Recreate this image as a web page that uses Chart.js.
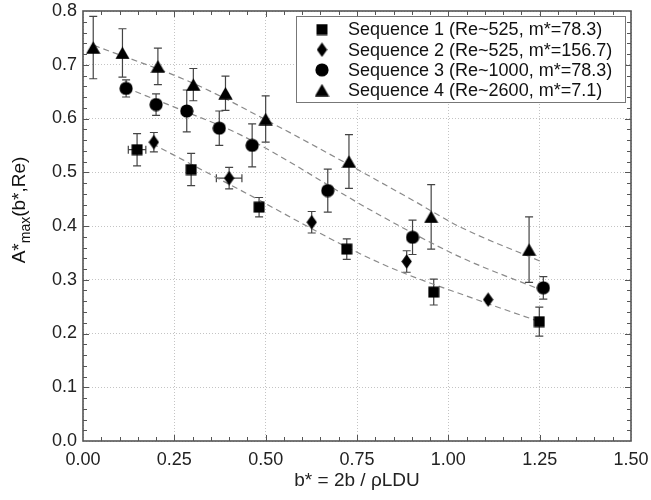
<!DOCTYPE html>
<html>
<head>
<meta charset="utf-8">
<script src="https://cdn.jsdelivr.net/npm/chart.js@4.4.0/dist/chart.umd.min.js"></script>
<style>
  html, body { margin: 0; padding: 0; background: #fff; }
</style>
</head>
<body>
<canvas id="myChart" width="651" height="500"></canvas>
<script>
// Sequence 1 (squares)
var seq1X = [0.148, 0.296, 0.482, 0.722, 0.960, 1.249];
var seq1Y = [0.542, 0.505, 0.435, 0.357, 0.277, 0.222];
var seq1YErr = [0.030, 0.030, 0.018, 0.019, 0.024, 0.027];
var seq1XErr = [0.024, 0, 0, 0, 0, 0];

// Sequence 2 (diamonds)
var seq2X = [0.194, 0.400, 0.626, 0.886, 1.109];
var seq2Y = [0.556, 0.489, 0.407, 0.334, 0.263];
var seq2YErr = [0.018, 0.020, 0.020, 0.020, 0];
var seq2XErr = [0, 0.035, 0, 0, 0];

// Sequence 3 (circles)
var seq3X = [0.118, 0.200, 0.284, 0.373, 0.463, 0.670, 0.902, 1.260];
var seq3Y = [0.656, 0.626, 0.614, 0.582, 0.550, 0.466, 0.379, 0.285];
var seq3YErr = [0.016, 0.020, 0.039, 0.032, 0.040, 0.040, 0.032, 0.021];

// Sequence 4 (triangles)
var seq4X = [0.028, 0.108, 0.205, 0.302, 0.390, 0.500, 0.728, 0.953, 1.221];
var seq4Y = [0.732, 0.722, 0.697, 0.663, 0.647, 0.599, 0.520, 0.417, 0.356];
var seq4YErr = [0.058, 0.045, 0.034, 0.030, 0.032, 0.043, 0.050, 0.060, 0.061];

// dashed fit curves
var fit1X = [0.19, 0.43, 0.81, 1.09, 1.25];
var fit1Y = [0.553, 0.467, 0.332, 0.260, 0.222];
var fit2X = [0.118, 0.28, 0.43, 0.81, 1.03, 1.25];
var fit2Y = [0.657, 0.613, 0.570, 0.421, 0.343, 0.282];
var fit3X = [0.03, 0.30, 0.51, 0.90, 1.03, 1.25];
var fit3Y = [0.736, 0.666, 0.594, 0.449, 0.399, 0.335];

var legendLabels = [
  'Sequence 1 (Re~525, m*=78.3)',
  'Sequence 2 (Re~525, m*=156.7)',
  'Sequence 3 (Re~1000, m*=78.3)',
  'Sequence 4 (Re~2600, m*=7.1)'
];

function toPoints(xs, ys) {
  return xs.map(function (x, i) { return {x: x, y: ys[i]}; });
}

// marker images
function makeMarker(w, h, draw) {
  var c = document.createElement('canvas');
  c.width = w; c.height = h;
  var g = c.getContext('2d');
  g.fillStyle = '#000';
  g.beginPath();
  draw(g);
  g.fill();
  return c;
}
var squareImg = makeMarker(12, 12, function (g) { g.rect(0.5, 0.5, 11, 11); });
var diamondImg = makeMarker(11, 15, function (g) {
  g.moveTo(5.5, 0.3); g.lineTo(10.7, 7.5); g.lineTo(5.5, 14.7); g.lineTo(0.3, 7.5); g.closePath();
});
var circleImg = makeMarker(14, 14, function (g) { g.arc(7, 7, 6.6, 0, Math.PI * 2); });
var triangleImg = makeMarker(15, 13, function (g) {
  g.moveTo(7.5, 0.3); g.lineTo(14.7, 12.7); g.lineTo(0.3, 12.7); g.closePath();
});
var markerImgs = [squareImg, diamondImg, circleImg, triangleImg];

var errSets = [
  {x: seq1X, y: seq1Y, ye: seq1YErr, xe: seq1XErr},
  {x: seq2X, y: seq2Y, ye: seq2YErr, xe: seq2XErr},
  {x: seq3X, y: seq3Y, ye: seq3YErr, xe: null},
  {x: seq4X, y: seq4Y, ye: seq4YErr, xe: null}
];

var frameTicks = {
  id: 'frameTicks',
  beforeDatasetsDraw: function (chart) {
    var ctx = chart.ctx, a = chart.chartArea;
    var xs = chart.scales.x, ys = chart.scales.y;
    ctx.save();
    ctx.strokeStyle = '#555';
    ctx.lineWidth = 1;
    ctx.beginPath();
    var i, p, len;
    for (i = 1; i < 30; i++) {
      p = Math.round(xs.getPixelForValue(i * 0.05)) + 0.5;
      len = (i % 5 === 0) ? 6 : 4;
      ctx.moveTo(p, a.bottom); ctx.lineTo(p, a.bottom - len);
      ctx.moveTo(p, a.top); ctx.lineTo(p, a.top + len);
    }
    for (i = 1; i < 40; i++) {
      p = Math.round(ys.getPixelForValue(i * 0.02)) + 0.5;
      len = (i % 5 === 0) ? 6 : 4;
      ctx.moveTo(a.left, p); ctx.lineTo(a.left + len, p);
      ctx.moveTo(a.right, p); ctx.lineTo(a.right - len, p);
    }
    ctx.stroke();
    ctx.lineWidth = 1.6;
    ctx.strokeRect(a.left, a.top, a.right - a.left, a.bottom - a.top);

    // error bars
    ctx.strokeStyle = '#444';
    ctx.lineWidth = 1.2;
    var cap = 4;
    errSets.forEach(function (s) {
      s.x.forEach(function (xv, k) {
        var px = xs.getPixelForValue(xv), py = ys.getPixelForValue(s.y[k]);
        ctx.beginPath();
        if (s.ye[k] > 0) {
          var t = ys.getPixelForValue(s.y[k] + s.ye[k]);
          var b = ys.getPixelForValue(s.y[k] - s.ye[k]);
          ctx.moveTo(px, t); ctx.lineTo(px, b);
          ctx.moveTo(px - cap, t); ctx.lineTo(px + cap, t);
          ctx.moveTo(px - cap, b); ctx.lineTo(px + cap, b);
        }
        if (s.xe && s.xe[k] > 0) {
          var l = xs.getPixelForValue(xv - s.xe[k]);
          var r = xs.getPixelForValue(xv + s.xe[k]);
          ctx.moveTo(l, py); ctx.lineTo(r, py);
          ctx.moveTo(l, py - cap); ctx.lineTo(l, py + cap);
          ctx.moveTo(r, py - cap); ctx.lineTo(r, py + cap);
        }
        ctx.stroke();
      });
    });
    ctx.restore();
  },
  afterDraw: function (chart) {
    var ctx = chart.ctx, a = chart.chartArea;
    ctx.save();
    // legend box
    var bx = a.right - 335, by = a.top + 5, bw = 329, bh = 86;
    ctx.fillStyle = '#fff';
    ctx.fillRect(bx, by, bw, bh);
    ctx.strokeStyle = '#777';
    ctx.lineWidth = 1;
    ctx.strokeRect(bx + 0.5, by + 0.5, bw, bh);
    ctx.font = '18px "Liberation Sans", Arial, sans-serif';
    ctx.fillStyle = '#111';
    ctx.textBaseline = 'middle';
    legendLabels.forEach(function (lab, i) {
      var ry = by + 13.5 + i * 20.2;
      var img = markerImgs[i];
      ctx.drawImage(img, bx + 26 - img.width / 2, ry - img.height / 2);
      ctx.fillText(lab, bx + 52, ry + 1);
    });
    // y axis title with subscript
    ctx.translate(20, 210);
    ctx.rotate(-Math.PI / 2);
    ctx.textBaseline = 'middle';
    var f1 = '19px "Liberation Sans", Arial, sans-serif';
    var f2 = '14px "Liberation Sans", Arial, sans-serif';
    ctx.font = f1; var w1 = ctx.measureText('A*').width;
    var w3 = ctx.measureText('(b*,Re)').width;
    ctx.font = f2; var w2 = ctx.measureText('max').width;
    var x0 = -(w1 + w2 + w3) / 2;
    ctx.font = f1; ctx.fillText('A*', x0, 0);
    ctx.font = f2; ctx.fillText('max', x0 + w1, 6);
    ctx.font = f1; ctx.fillText('(b*,Re)', x0 + w1 + w2, 0);
    ctx.restore();
  }
};

var fitStyle = {
  showLine: true, pointRadius: 0, borderColor: '#8a8a8a', borderWidth: 1.2,
  borderDash: [6, 4], cubicInterpolationMode: 'monotone', fill: false
};

var chart = new Chart(document.getElementById('myChart').getContext('2d'), {
  type: 'scatter',
  data: {
    datasets: [
      {label: legendLabels[0], data: toPoints(seq1X, seq1Y), pointStyle: squareImg},
      {label: legendLabels[1], data: toPoints(seq2X, seq2Y), pointStyle: diamondImg},
      {label: legendLabels[2], data: toPoints(seq3X, seq3Y), pointStyle: circleImg},
      {label: legendLabels[3], data: toPoints(seq4X, seq4Y), pointStyle: triangleImg},
      Object.assign({label: 'fit1', data: toPoints(fit1X, fit1Y)}, fitStyle),
      Object.assign({label: 'fit2', data: toPoints(fit2X, fit2Y)}, fitStyle),
      Object.assign({label: 'fit3', data: toPoints(fit3X, fit3Y)}, fitStyle)
    ]
  },
  options: {
    responsive: false,
    animation: false,
    layout: {padding: {top: 11, right: 20, left: 0, bottom: 0}},
    plugins: {legend: {display: false}, tooltip: {enabled: false}},
    scales: {
      x: {
        type: 'linear', min: 0, max: 1.5,
        afterFit: function (s) { s.height = 59; s.paddingLeft = 0; s.paddingRight = 0; },
        grid: {color: '#c4c4c4', drawTicks: false},
        border: {display: false, dash: [1, 2]},
        ticks: {
          stepSize: 0.25, padding: 8, color: '#222', maxRotation: 0,
          font: {family: '"Liberation Sans", Arial, sans-serif', size: 18},
          callback: function (v) { return v.toFixed(2); }
        },
        title: {
          display: true, text: 'b* = 2b / \u03c1LDU', color: '#222',
          font: {family: '"Liberation Sans", Arial, sans-serif', size: 19},
          padding: {top: 2, bottom: 8}
        }
      },
      y: {
        type: 'linear', min: 0, max: 0.8,
        afterFit: function (s) { s.width = 83; s.paddingTop = 0; s.paddingBottom = 0; },
        grid: {color: '#c4c4c4', drawTicks: false},
        border: {display: false, dash: [1, 2]},
        ticks: {
          stepSize: 0.1, padding: 6, color: '#222',
          font: {family: '"Liberation Sans", Arial, sans-serif', size: 18},
          callback: function (v) { return v.toFixed(1); }
        }
      }
    }
  },
  plugins: [frameTicks]
});
</script>
</body>
</html>
